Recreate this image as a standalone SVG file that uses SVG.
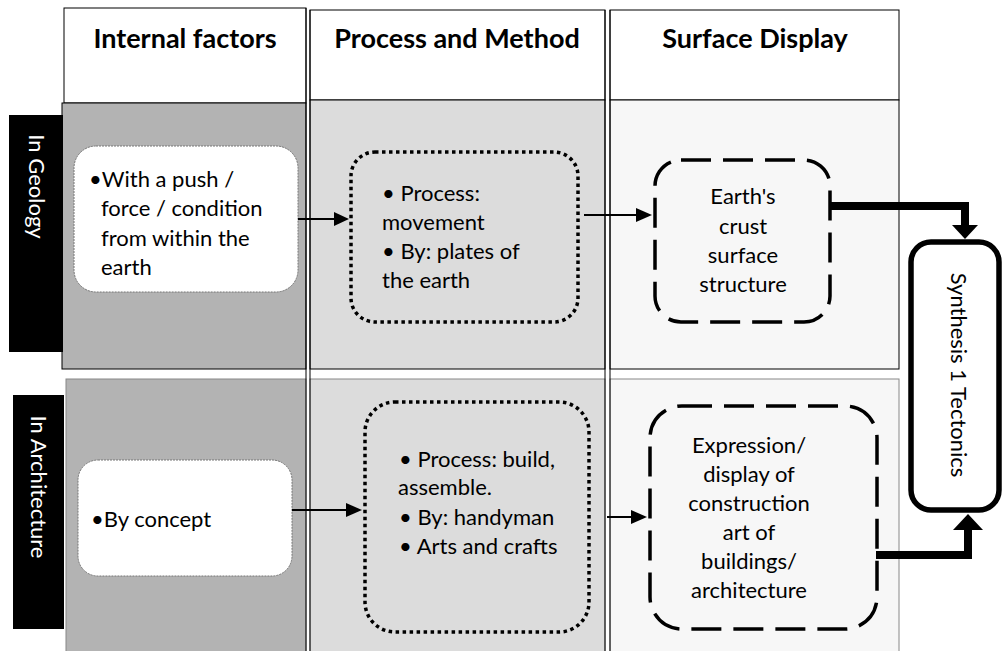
<svg xmlns="http://www.w3.org/2000/svg" width="1003" height="651" viewBox="0 0 1003 651">
<style>
.t{font-family:Lato,"Liberation Sans",sans-serif;font-size:22px;fill:#000}
.h{font-family:Lato,"Liberation Sans",sans-serif;font-size:27px;font-weight:bold;fill:#000;text-anchor:middle}
.c{text-anchor:middle}
.w{fill:#fff}
.cell{stroke:#000;stroke-width:1}
.wb{fill:#fff;stroke:#777;stroke-width:1;stroke-dasharray:2 1}
.dot{fill:none;stroke:#000;stroke-width:3.5;stroke-dasharray:3.5 3.5}
.dash{fill:none;stroke:#000;stroke-width:3.5;stroke-dasharray:30 12}
.ar{stroke:#000;stroke-width:2;fill:none}
.thick{stroke:#000;stroke-width:8;fill:none}
</style>
<rect width="1003" height="651" fill="#fff"/>
<g id="grid">
<rect class="cell" x="64" y="8" width="242" height="95" fill="#fff"/>
<rect class="cell" x="310" y="10" width="295" height="90" fill="#fff"/>
<rect class="cell" x="610" y="10" width="289" height="90" fill="#fff"/>
<rect class="cell" x="62" y="103" width="244" height="266" fill="#b3b3b3"/>
<rect class="cell" x="310" y="100" width="295" height="269" fill="#dcdcdc"/>
<rect class="cell" x="610" y="100" width="289" height="269" fill="#f7f7f7"/>
<rect x="66" y="379" width="240" height="280" fill="#b3b3b3" stroke="#888" stroke-width="1"/>
<rect x="310" y="379" width="295" height="280" fill="#dcdcdc" stroke="#888" stroke-width="1"/>
<rect x="610" y="379" width="289" height="280" fill="#f7f7f7" stroke="#888" stroke-width="1"/>
<line x1="306" y1="8" x2="306" y2="651" stroke="#000" stroke-width="1"/>
<line x1="310" y1="10" x2="310" y2="651" stroke="#000" stroke-width="1"/>
<line x1="605" y1="10" x2="605" y2="651" stroke="#000" stroke-width="1"/>
<line x1="610" y1="10" x2="610" y2="651" stroke="#000" stroke-width="1"/>
</g>
<g id="headers">
<text class="h" x="185" y="48">Internal factors</text>
<text class="h" x="457" y="48">Process and Method</text>
<text class="h" x="755" y="48">Surface Display</text>
</g>
<g id="label-geology">
<rect x="9" y="115" width="54" height="237" fill="#000"/>
<text class="t w c" transform="translate(29,186.5) rotate(90)">In Geology</text>
</g>
<g id="label-architecture">
<rect x="13" y="395" width="51" height="234" fill="#000"/>
<text class="t w c" transform="translate(31,487) rotate(90)">In Architecture</text>
</g>
<g id="internal-geology">
<rect class="wb" x="74" y="146" width="224" height="146" rx="22"/>
<text class="t" x="89" y="187">•With a push /</text>
<text class="t" x="101" y="216">force / condition</text>
<text class="t" x="101" y="246">from within the</text>
<text class="t" x="101" y="275">earth</text>
</g>
<g id="process-geology">
<rect class="dot" x="351" y="152" width="227" height="170" rx="24"/>
<text class="t" x="382" y="201">• Process:</text>
<text class="t" x="382" y="230">movement</text>
<text class="t" x="382" y="259">• By: plates of</text>
<text class="t" x="382" y="288">the earth</text>
</g>
<g id="surface-geology">
<rect class="dash" x="655" y="160" width="175" height="162" rx="26"/>
<text class="t c" x="743" y="204">Earth's</text>
<text class="t c" x="743" y="234">crust</text>
<text class="t c" x="743" y="263">surface</text>
<text class="t c" x="743" y="292">structure</text>
</g>
<g id="internal-architecture">
<rect class="wb" x="78" y="460" width="214" height="116" rx="20"/>
<text class="t" x="91" y="527">•By concept</text>
</g>
<g id="process-architecture">
<rect class="dot" x="365" y="402" width="224" height="230" rx="30"/>
<text class="t" x="399" y="467">• Process: build,</text>
<text class="t" x="398" y="495">assemble.</text>
<text class="t" x="399" y="525">• By: handyman</text>
<text class="t" x="399" y="554">• Arts and crafts</text>
</g>
<g id="surface-architecture">
<rect class="dash" x="650" y="406" width="227" height="223" rx="32"/>
<text class="t c" x="749" y="453">Expression/</text>
<text class="t c" x="749" y="482">display of</text>
<text class="t c" x="749" y="511">construction</text>
<text class="t c" x="749" y="540">art of</text>
<text class="t c" x="749" y="569">buildings/</text>
<text class="t c" x="749" y="598">architecture</text>
</g>
<g id="synthesis">
<rect x="911" y="242" width="88" height="268" rx="20" fill="#fff" stroke="#000" stroke-width="5.5"/>
<text class="t c" transform="translate(951,375) rotate(90)">Synthesis 1 Tectonics</text>
</g>
<g id="connectors">
<line class="ar" x1="298" y1="219" x2="335" y2="219"/>
<polygon points="334,212 349,219 334,226" fill="#000"/>
<line class="ar" x1="584" y1="215" x2="637" y2="215"/>
<polygon points="636,208 652,215 636,222" fill="#000"/>
<line class="ar" x1="292" y1="510" x2="347" y2="510"/>
<polygon points="346,503 362,510 346,517" fill="#000"/>
<line class="ar" x1="607" y1="517" x2="632" y2="517"/>
<polygon points="631,510 647,517 631,524" fill="#000"/>
<polyline class="thick" points="830,206 965,206 965,227"/>
<polygon points="952,225 978,225 965,239" fill="#000"/>
<polyline class="thick" points="876,555 968,555 968,528"/>
<polygon points="953,530 983,530 968,514" fill="#000"/>
</g>
</svg>
